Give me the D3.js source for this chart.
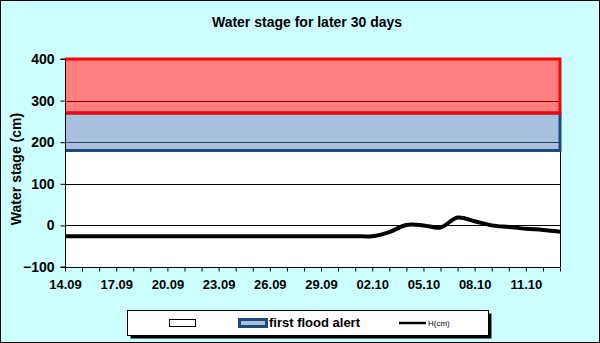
<!DOCTYPE html>
<html>
<head>
<meta charset="utf-8">
<script src="https://cdn.jsdelivr.net/npm/d3@7"></script>
<style>
  html, body { margin: 0; padding: 0; background: #fff; }
  svg { display: block; }
  text { font-family: "Liberation Sans", Arial, sans-serif; }
</style>
</head>
<body>
<div id="chart"></div>
<script>
// ---- data ----
const days = ["14.09","15.09","16.09","17.09","18.09","19.09","20.09","21.09","22.09","23.09",
              "24.09","25.09","26.09","27.09","28.09","29.09","30.09","01.10","02.10","03.10",
              "04.10","05.10","06.10","07.10","08.10","09.10","10.10","11.10","12.10","13.10"];
const hValues = [-26,-26,-26,-26,-26,-26,-26,-26,-26,-26,
                 -26,-26,-26,-26,-26,-26,-26,-26,-26,-16,
                 1,0,-5,19,10,0,-4,-8,-11,-15];
const xTickLabels = ["14.09","17.09","20.09","23.09","26.09","29.09","02.10","05.10","08.10","11.10"];
const yTicks = [-100, 0, 100, 200, 300, 400];
const firstAlert = [180, 270];   // blue band
const dangerBand = [270, 400];   // red band
const title = "Water stage for later 30 days";
const yTitle = "Water stage (cm)";

// ---- layout ----
const W = 600, H = 343;
const plot = { left: 65, right: 560, top: 59, bottom: 267 };

const svg = d3.select("#chart").append("svg").attr("width", W).attr("height", H);

// background
svg.append("rect").attr("x", 0.5).attr("y", 0.5).attr("width", W - 1).attr("height", H - 1)
  .attr("fill", "#CCFFFF").attr("stroke", "#000").attr("stroke-width", 1);

const x = d3.scaleLinear().domain([0, days.length - 1]).range([plot.left, plot.right]);
const y = d3.scaleLinear().domain([-100, 400]).range([plot.bottom, plot.top]);

// plot area
svg.append("rect").attr("x", plot.left).attr("y", plot.top)
  .attr("width", plot.right - plot.left).attr("height", plot.bottom - plot.top)
  .attr("fill", "#fff");

// gridlines
svg.append("g").selectAll("line").data(yTicks.filter(v => v > -100 && v < 400)).join("line")
  .attr("x1", plot.left).attr("x2", plot.right)
  .attr("y1", d => Math.round(y(d)) + 0.5).attr("y2", d => Math.round(y(d)) + 0.5)
  .attr("stroke", "#000").attr("stroke-width", 1);

// plot border (right side visible)
svg.append("line").attr("x1", plot.right + 0.5).attr("x2", plot.right + 0.5)
  .attr("y1", plot.top).attr("y2", plot.bottom).attr("stroke", "#000");

// bands: fill + border on top / right / bottom
function band(lo, hi, fill, stroke) {
  svg.append("rect").attr("x", plot.left).attr("y", y(hi))
    .attr("width", plot.right - plot.left).attr("height", y(lo) - y(hi))
    .attr("fill", fill).attr("fill-opacity", 0.5);
  svg.append("path")
    .attr("d", `M${plot.left},${y(hi)}H${plot.right}V${y(lo)}H${plot.left}`)
    .attr("fill", "none").attr("stroke", stroke).attr("stroke-width", 3);
}
band(firstAlert[0], firstAlert[1], "#4F81BD", "#1F497D");
band(dangerBand[0], dangerBand[1], "#FF0000", "#FF0000");

// H line
const line = d3.line().x((d, i) => x(i)).y(d => y(d)).curve(d3.curveCatmullRom.alpha(0.5));
svg.append("path").datum(hValues).attr("d", line)
  .attr("fill", "none").attr("stroke", "#000").attr("stroke-width", 4)
  .attr("stroke-linejoin", "round");

// y axis
const yAxis = d3.axisLeft(y).tickValues(yTicks).tickSize(5).tickPadding(6);
const gy = svg.append("g").attr("transform", `translate(${plot.left + 0.5},0)`).call(yAxis);
gy.select(".domain").attr("stroke", "#000").attr("d", `M-5,${plot.top}H0V${plot.bottom}H-5`);
gy.selectAll(".tick line").attr("stroke", "#000");
gy.selectAll(".tick text").attr("font-size", 14).attr("font-weight", "bold").attr("fill", "#000")
  .attr("font-family", "Liberation Sans, Arial, sans-serif");

// x axis
const xAxis = d3.axisBottom(x).tickValues(d3.range(days.length)).tickSize(4).tickPadding(8)
  .tickFormat(i => xTickLabels.includes(days[i]) ? days[i] : "");
const gx = svg.append("g").attr("transform", `translate(0,${plot.bottom + 0.5})`).call(xAxis);
gx.select(".domain").attr("stroke", "#000").attr("d", `M${plot.left},0H${plot.right}`);
gx.selectAll(".tick line").attr("stroke", "#000");
gx.selectAll(".tick text").attr("font-size", 13).attr("font-weight", "bold").attr("fill", "#000")
  .attr("font-family", "Liberation Sans, Arial, sans-serif");

// title
svg.append("text").attr("x", 307).attr("y", 27).attr("text-anchor", "middle")
  .attr("font-size", 14).attr("font-weight", "bold").text(title);

// y title
svg.append("text").attr("transform", `translate(21,169) rotate(-90)`).attr("text-anchor", "middle")
  .attr("font-size", 14).attr("font-weight", "bold").text(yTitle);

// legend
const lg = svg.append("g");
lg.append("rect").attr("x", 130.5).attr("y", 313.5).attr("width", 361).attr("height", 25).attr("fill", "#000");
lg.append("rect").attr("x", 127.5).attr("y", 310.5).attr("width", 361).attr("height", 25)
  .attr("fill", "#fff").attr("stroke", "#000").attr("stroke-width", 1);
lg.append("rect").attr("x", 169.5).attr("y", 319.5).attr("width", 26).attr("height", 7)
  .attr("fill", "#fff").attr("stroke", "#000");
lg.append("rect").attr("x", 239.5).attr("y", 319.5).attr("width", 27).attr("height", 7)
  .attr("fill", "#4F81BD").attr("fill-opacity", 0.5).attr("stroke", "#1F497D").attr("stroke-width", 3);
lg.append("text").attr("x", 269).attr("y", 327).attr("font-size", 13).attr("font-weight", "bold")
  .text("first flood alert");
lg.append("line").attr("x1", 399).attr("x2", 426).attr("y1", 323).attr("y2", 323)
  .attr("stroke", "#000").attr("stroke-width", 2.5);
lg.append("text").attr("x", 428).attr("y", 326).attr("font-size", 8).text("H(cm)");
</script>
</body>
</html>
